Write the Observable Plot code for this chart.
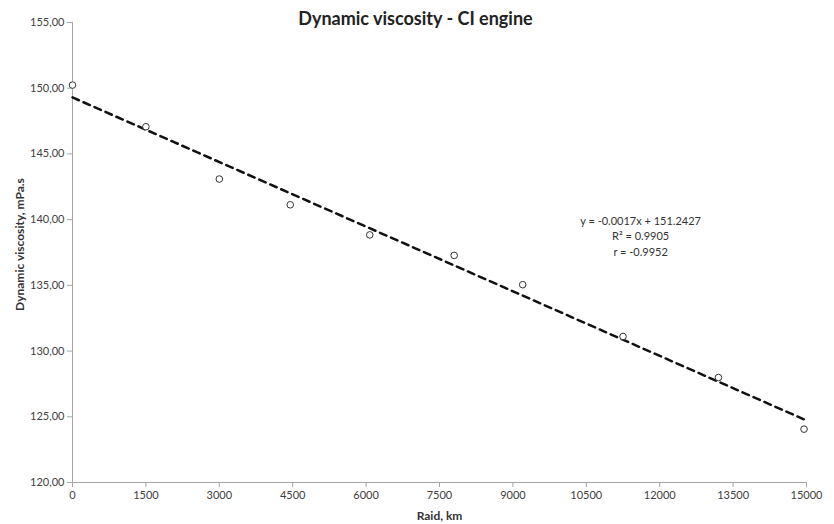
<!DOCTYPE html>
<html><head><meta charset="utf-8">
<script src="https://cdn.jsdelivr.net/npm/d3@7"></script>
<script src="https://cdn.jsdelivr.net/npm/@observablehq/plot@0.6"></script>
<style>body{margin:0;background:#fff;}</style>
</head><body><div id="chart"></div>
<script>
const raidKm = [0, 1500, 3000, 4450, 6075, 7800, 9200, 11250, 13200, 14950];
const viscosity = [150.24, 147.07, 143.09, 141.13, 138.84, 137.28, 135.05, 131.11, 127.99, 124.06];
const trendX = [0, 14950];
const trendY = [149.3, 124.8];
const xTicks = [0, 1500, 3000, 4500, 6000, 7500, 9000, 10500, 12000, 13500, 15000];
const yTicks = [120, 125, 130, 135, 140, 145, 150, 155];
const titleText = "Dynamic viscosity - CI engine";
const xLabel = "Raid, km";
const yLabel = "Dynamic viscosity, mPa.s";
const equationLines = ["y = -0.0017x + 151.2427", "R² = 0.9905", "r = -0.9952"];
const equationPos = {x: 11610, y: 138.8};

const points = raidKm.map((x, i) => ({x, y: viscosity[i]}));
const trend = trendX.map((x, i) => ({x, y: trendY[i]}));

const chart = Plot.plot({
  width: 834,
  height: 524,
  marginLeft: 72,
  marginRight: 28,
  marginTop: 22,
  marginBottom: 42,
  style: {fontFamily: "Lato, 'Open Sans', sans-serif", fontSize: "11px", background: "#fff", color: "#404040"},
  x: {domain: [0, 15000]},
  y: {domain: [120, 155]},
  marks: [
    Plot.ruleX([0], {stroke: "#a6a6a6", strokeWidth: 1}),
    Plot.ruleY([120], {stroke: "#a6a6a6", strokeWidth: 1}),
    Plot.axisY({ticks: yTicks, tickSize: 5, tickPadding: 3, tickFormat: d => d.toFixed(2).replace(".", ","), stroke: "#a6a6a6", fill: "#404040", label: null}),
    Plot.axisX({ticks: xTicks, tickSize: 5, tickPadding: 4, tickFormat: d => String(d), stroke: "#a6a6a6", fill: "#404040", label: null}),
    Plot.line(trend, {x: "x", y: "y", stroke: "#111", strokeWidth: 2.5, strokeDasharray: "7,5"}),
    Plot.dot(points, {x: "x", y: "y", r: 3.3, stroke: "#333", fill: "white", strokeWidth: 1}),
    Plot.text([equationLines.join("\n")], {x: equationPos.x, y: equationPos.y, lineHeight: 1.4, fontSize: 11, fill: "#333", textAnchor: "middle", lineAnchor: "middle"}),
    Plot.text([titleText], {frameAnchor: "top", lineAnchor: "middle", dx: -24, dy: -3, fontSize: 18, fontWeight: "bold", fill: "#222"}),
    Plot.text([xLabel], {frameAnchor: "bottom", lineAnchor: "middle", dy: 34, fontSize: 12, fontWeight: "bold", fill: "#333"}),
    Plot.text([yLabel], {frameAnchor: "left", rotate: -90, textAnchor: "middle", lineAnchor: "middle", dx: -52, dy: -8, fontSize: 12, fontWeight: "bold", fill: "#333"})
  ]
});
document.getElementById("chart").appendChild(chart);
</script>
</body></html>
